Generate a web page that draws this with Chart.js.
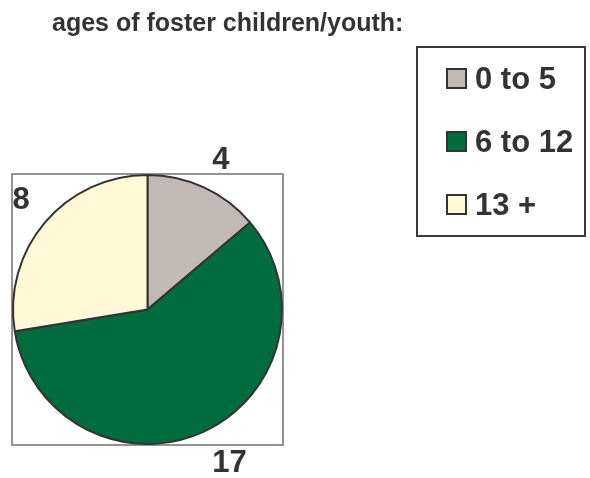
<!DOCTYPE html>
<html>
<head>
<meta charset="utf-8">
<script src="https://cdn.jsdelivr.net/npm/chart.js@4.4.0/dist/chart.umd.min.js"></script>
<style>
    html, body { margin: 0; padding: 0; background: #fff; }
    .wrap { position: relative; width: 590px; height: 478px; font-family: "Liberation Sans", Arial, sans-serif; color: #333; }
    .title { position: absolute; left: 52px; top: 10px; font-size: 25px; line-height: 25px; font-weight: bold; white-space: nowrap; }
    .legend { position: absolute; left: 416px; top: 46px; width: 166px; height: 187px; border: 2px solid #3a3a3a; }
    .legend-item { position: absolute; left: 28px; height: 21px; display: flex; align-items: center; font-size: 31px; line-height: 21px; font-weight: bold; white-space: nowrap; }
    .swatch { width: 17px; height: 17px; border: 2px solid #333; margin-right: 8px; }
    canvas { position: absolute; left: 0; top: 0; }
</style>
</head>
<body>
<div class="wrap">
    <canvas id="pie" width="590" height="478"></canvas>
    <div class="title">ages of foster children/youth:</div>
    <div class="legend" id="legend"></div>
</div>
<script>
const categories = ['0 to 5', '6 to 12', '13 +'];
const counts = [4, 17, 8];
const sliceColors = ['#c1b9b6', '#006c3f', '#fff9d7'];

// legend box (html)
const legend = document.getElementById('legend');
categories.forEach((name, i) => {
    const item = document.createElement('div');
    item.className = 'legend-item';
    item.style.top = (20 + i * 63) + 'px';
    item.innerHTML = `<span class="swatch" style="background:${sliceColors[i]}"></span><span>${name}</span>`;
    legend.appendChild(item);
});

// grey frame round the plot area
const plotFrame = {
    id: 'plotFrame',
    beforeDraw(chart) {
        const { ctx, chartArea: a } = chart;
        ctx.save();
        ctx.strokeStyle = '#9a908d';
        ctx.lineWidth = 2;
        ctx.strokeRect(a.left, a.top, a.right - a.left, a.bottom - a.top);
        ctx.restore();
    }
};

// value labels outside each slice, nearest corner of the text box sits on a ring
const valueLabels = {
    id: 'valueLabels',
    afterDatasetsDraw(chart) {
        const ctx = chart.ctx;
        const meta = chart.getDatasetMeta(0);
        const capH = 22;
        ctx.save();
        ctx.font = 'bold 31px "Liberation Sans", Arial, sans-serif';
        ctx.fillStyle = '#333';
        ctx.textAlign = 'center';
        ctx.textBaseline = 'alphabetic';
        meta.data.forEach((arc, i) => {
            const p = arc.getProps(['x', 'y', 'startAngle', 'endAngle', 'outerRadius'], true);
            const mid = (p.startAngle + p.endAngle) / 2;
            const r = p.outerRadius + 20;
            const cx = Math.cos(mid), cy = Math.sin(mid);
            const text = String(counts[i]);
            const w = ctx.measureText(text).width;
            const x = p.x + cx * r + Math.sign(cx) * w / 2;
            const y = p.y + cy * r + Math.sign(cy) * capH / 2;
            ctx.fillText(text, x, y + capH / 2);
        });
        ctx.restore();
    }
};

new Chart(document.getElementById('pie'), {
    type: 'pie',
    data: {
        labels: categories,
        datasets: [{
            data: counts,
            backgroundColor: sliceColors,
            borderColor: '#333',
            borderWidth: 2
        }]
    },
    options: {
        responsive: false,
        animation: false,
        devicePixelRatio: 1,
        layout: { padding: { left: 12, top: 174, right: 307, bottom: 33 } },
        plugins: {
            legend: { display: false },
            title: { display: false },
            tooltip: { enabled: false }
        }
    },
    plugins: [plotFrame, valueLabels]
});
</script>
</body>
</html>
